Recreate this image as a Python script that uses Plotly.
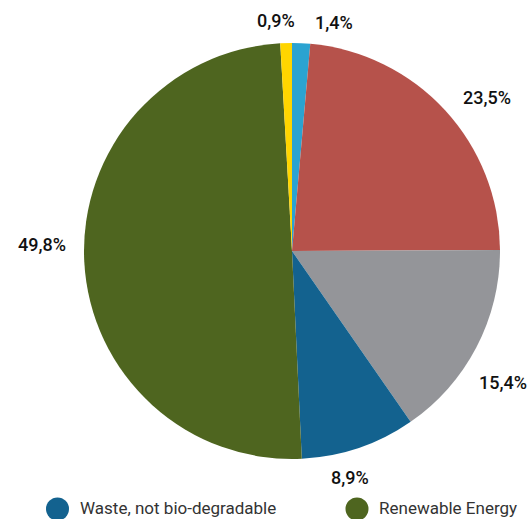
import math
import plotly.graph_objects as go

# Data in clockwise order from 12 o'clock
labels = ["Natural Gas", "Coal", "Other fossil", "Waste, not bio-degradable",
          "Renewable Energy", "Nuclear Energy"]
values = [1.4, 23.5, 15.4, 8.9, 49.8, 0.9]
text_labels = ["1,4%", "23,5%", "15,4%", "8,9%", "49,8%", "0,9%"]
colors = ["#2ba3d1", "#b6524b", "#949599", "#13628f", "#4e651f", "#ffd500"]
legend_labels = ["Waste, not bio-degradable", "Renewable Energy"]

W, H = 528, 519
cx, cy, R = 292, 251, 208
FS = 18

fig = go.Figure(go.Pie(
    labels=labels, values=values,
    textinfo="none",
    sort=False, direction="clockwise", rotation=0,
    marker=dict(colors=colors, line=dict(width=0)),
    domain=dict(x=[(cx - R) / W, (cx + R) / W], y=[1 - (cy + R) / H, 1 - (cy - R) / H]),
    showlegend=False,
    hoverinfo="label+percent",
))

# outside labels positioned from the slice mid-angles
total = sum(values)
cum = 0
gap = 14
for v, t in zip(values, text_labels):
    mid = (cum + v / 2) / total * 360
    cum += v
    raw = math.radians(mid)
    th = math.radians(mid + 4.5)
    s, c = math.sin(th), math.cos(th)
    if c > 0.9:
        # labels of the thin slices at the top: anchored beside each other
        px = cx + (R + gap) * s
        py = cy - (R + gap) * c + 4
        yanchor = "bottom"
        xanchor = "left" if math.sin(raw) >= 0 else "right"
        xshift = -6
    else:
        w = len(t) * 0.62 * FS
        h = 13
        half = w / 2 * abs(s) + h / 2 * abs(c)
        d = R + gap + half
        px = cx + d * s
        py = cy - d * c
        xanchor, yanchor, xshift = "center", "middle", 0
    fig.add_annotation(
        x=px / W, y=1 - py / H, xref="paper", yref="paper",
        text=t, showarrow=False, xanchor=xanchor, yanchor=yanchor, xshift=xshift,
        font=dict(family="Roboto", size=FS, color="#111111", weight=500),
    )

# legend (first row visible)
legend_pos = [(57.5, 79), (357, 378)]
legend_cols = [colors[labels.index(n)] for n in legend_labels]
for name, col, (mx, tx) in zip(legend_labels, legend_cols, legend_pos):
    ly = 508
    fig.add_shape(type="circle", xref="paper", yref="paper",
                  x0=(mx - 11.5) / W, x1=(mx + 11.5) / W,
                  y0=1 - (ly + 1 + 11.5) / H, y1=1 - (ly + 1 - 11.5) / H,
                  fillcolor=col, line=dict(width=0))
    fig.add_annotation(x=tx / W, y=1 - ly / H, xref="paper", yref="paper",
                       text=name, showarrow=False, xanchor="left", yanchor="middle",
                       borderpad=0,
                       font=dict(family="Roboto", size=17, color="#333333"))

fig.update_layout(
    width=W, height=H,
    margin=dict(l=0, r=0, t=0, b=0),
    paper_bgcolor="white",
)

fig.write_html("out.html")
